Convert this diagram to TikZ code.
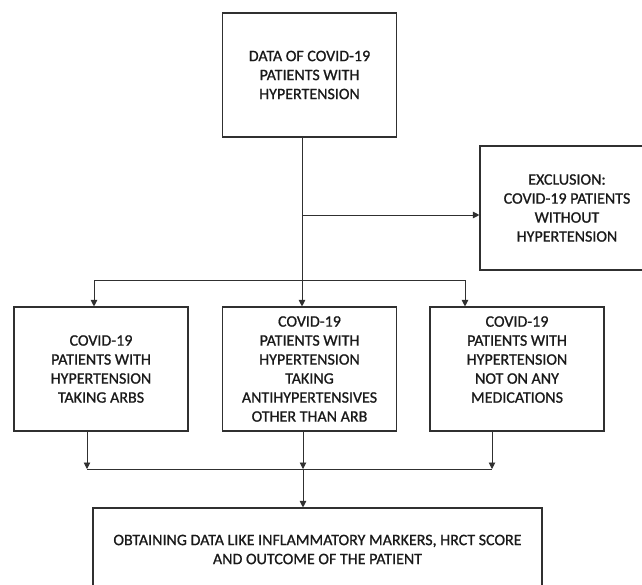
\documentclass[tikz,border=0pt]{standalone}
\usepackage{fontspec}
\setmainfont{Carlito}[FakeBold=0.9]
\usetikzlibrary{arrows.meta}
\definecolor{ink}{HTML}{1A1A1A}
\definecolor{edge}{HTML}{303030}
\tikzset{
  box/.style={draw=edge, line width=1.1pt, minimum width=174pt, minimum height=124pt,
    align=center, inner sep=0pt, text=ink,
    font=\fontsize{16pt}{19pt}\selectfont},
  conn/.style={draw=edge, line width=0.9pt},
  arr/.style={conn, -{Triangle[width=6.5pt,length=6.5pt]}, shorten >=0pt}
}
\begin{document}
\begin{tikzpicture}[x=1pt,y=-1pt]
\useasboundingbox (0,0) rectangle (642,584);
\clip (0,0) rectangle (642,584);
\fill[white] (0,0) rectangle (642,584);
\node[box] (top) at (309.5,75) {DATA OF COVID-19\\PATIENTS WITH\\HYPERTENSION};
\node[box] (excl) at (567,208) {EXCLUSION:\\COVID-19 PATIENTS\\WITHOUT\\HYPERTENSION};
\node[box] (box1) at (101,369) {COVID-19\\PATIENTS WITH\\HYPERTENSION\\TAKING ARBS};
\node[box] (box2) at (309.5,369) {COVID-19\\PATIENTS WITH\\HYPERTENSION\\TAKING\\ANTIHYPERTENSIVES\\OTHER THAN ARB};
\node[box] (box3) at (517,369) {COVID-19\\PATIENTS WITH\\HYPERTENSION\\NOT ON ANY\\MEDICATIONS\\\mbox{}};
\node[box, minimum width=449pt, minimum height=83pt] (bottom) at (317.5,549.5) {OBTAINING DATA LIKE INFLAMMATORY MARKERS, HRCT SCORE\\AND OUTCOME OF THE PATIENT};
\coordinate (j1) at (302,215);
\coordinate (b1) at (94,280);
\coordinate (b3) at (465,280);
\coordinate (m1) at (87,469);
\coordinate (m2) at (303,469);
\coordinate (m3) at (492,469);
\draw[arr] (top.south -| j1) -- (j1 |- box2.north);
\draw[arr] (j1) -- (excl.west |- j1);
\draw[conn] (b1) -- (b3);
\draw[arr] (b1) -- (b1 |- box1.north);
\draw[arr] (b3) -- (b3 |- box3.north);
\draw[arr] (box1.south -| m1) -- (m1);
\draw[arr] (box2.south -| m2) -- (m2);
\draw[arr] (box3.south -| m3) -- (m3);
\draw[conn] (m1) -- (m3);
\draw[arr] (m2) -- (m2 |- bottom.north);
\end{tikzpicture}
\end{document}
